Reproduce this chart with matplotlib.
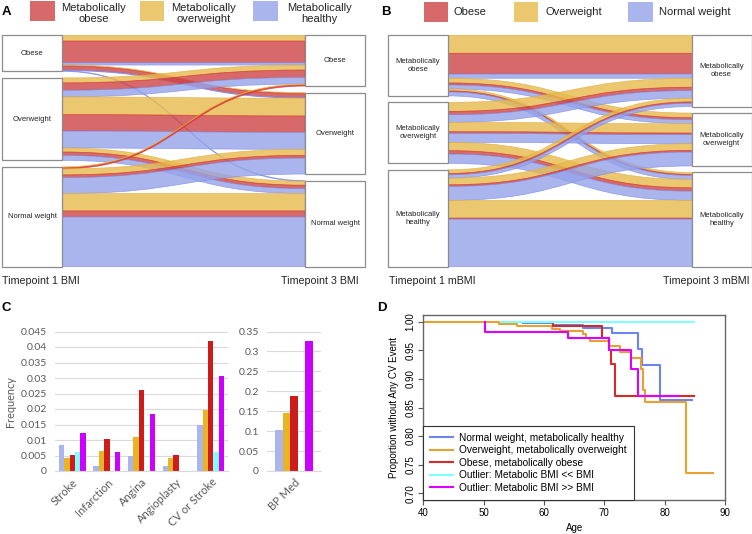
import numpy as np
import matplotlib.pyplot as plt
from matplotlib.path import Path
from matplotlib.patches import PathPatch, Rectangle

plt.rcParams['font.family'] = ['Liberation Sans', 'DejaVu Sans']

W, H = 752, 534

# panels A/B: flow sizes per (timepoint 1 node, timepoint 3 node) as [obese, overweight, healthy/normal]
bmi_nodes = ['Obese', 'Overweight', 'Normal weight']
mbmi_nodes = ['Metabolically\nobese', 'Metabolically\noverweight', 'Metabolically\nhealthy']
metab_legend = ['Metabolically\nobese', 'Metabolically\noverweight', 'Metabolically\nhealthy']
bmi_legend = ['Obese', 'Overweight', 'Normal weight']

flows_a = [
    [[65, 18, 7], [12, 3, 2], [0, 0, 2]],
    [[22, 15, 20], [49, 53, 51], [10, 12, 15]],
    [[3, 3, 0], [8, 18, 48], [18, 52, 150]],
]
flows_b = [
    [[62, 55, 13], [6, 14, 12], [3, 6, 12]],
    [[10, 27, 23], [5, 28, 27], [10, 25, 28]],
    [[4, 11, 10], [5, 20, 42], [3, 53, 144]],
]

# panel C
events = ['Stroke', 'Infarction', 'Angina', 'Angioplasty', 'CV or Stroke']
freq_healthy = [0.0084, 0.0016, 0.0050, 0.0016, 0.0150]
freq_overweight = [0.0043, 0.0065, 0.0109, 0.0043, 0.0196]
freq_obese = [0.0051, 0.0103, 0.0262, 0.0051, 0.0418]
freq_low_outlier = [0.0062, 0, 0, 0, 0.0062]
freq_high_outlier = [0.0122, 0.0060, 0.0184, 0, 0.0305]
bp_med = [0.103, 0.1465, 0.188, 0.0, 0.327]

# panel D: Kaplan-Meier steps
km_labels = ['Normal weight, metabolically healthy', 'Overweight, metabolically overweight',
             'Obese, metabolically obese', 'Outlier: Metabolic BMI << BMI', 'Outlier: Metabolic BMI >> BMI']
age_healthy = [56.6, 61.5, 66.5, 71.2, 75.6, 76.2, 79.3, 84.5]
surv_healthy = [0.998, 0.995, 0.989, 0.980, 0.952, 0.924, 0.863, 0.863]
age_overweight = [40, 52.6, 55.6, 61.4, 62.7, 66.5, 66.9, 67.7, 70.7, 72.6, 74.5, 76.0, 76.4, 76.8, 83.6, 88.0]
surv_overweight = [1.0, 0.996, 0.992, 0.988, 0.984, 0.979, 0.972, 0.966, 0.958, 0.948, 0.936, 0.918, 0.880,
                   0.859, 0.736, 0.736]
age_obese = [57.0, 61.5, 69.6, 70.8, 71.1, 71.8, 84.8]
surv_obese = [1.0, 0.992, 0.971, 0.951, 0.926, 0.871, 0.871]
age_low = [52.8, 84.8]
surv_low = [1.0, 1.0]
age_high = [50.3, 50.3, 64.0, 70.7, 74.4, 75.5, 82.4]
surv_high = [1.0, 0.982, 0.971, 0.951, 0.917, 0.871, 0.871]

flow_colors = ['#cd4346', '#e6ba4c', '#95a3ea']
flow_edges = ['#d93434', '#e6ad3a', '#7f8de6']
flow_alpha = 0.8
bar_colors = ['#aab4ee', '#e8b426', '#cc1c1c', '#80ffff', '#cc00ff']
km_colors = ['#6b84ee', '#e8a030', '#d42a2a', '#80ffff', '#dd00ff']

fig = plt.figure(figsize=(W / 100, H / 100), dpi=100)


def add_ax(x0, y0, x1, y1):
    return fig.add_axes([x0 / W, 1 - y1 / H, (x1 - x0) / W, (y1 - y0) / H])


def ftext(x, y, s, **kw):
    fig.text(x / W, 1 - y / H, s, **kw)


def fpatch(x0, y0, x1, y1, color):
    fig.add_artist(Rectangle((x0 / W, 1 - y1 / H), (x1 - x0) / W, (y1 - y0) / H,
                             transform=fig.transFigure, facecolor=color, alpha=flow_alpha, lw=0))


def sankey(ax, flows, left_names, right_names, nw, gap=19.5):
    f = np.asarray(flows, dtype=float)
    n = f.shape[0]
    lsum = f.sum(axis=(1, 2))
    rsum = f.sum(axis=(0, 2))
    ltop = np.concatenate([[0], np.cumsum(lsum + gap)[:-1]])
    rtop = np.concatenate([[0], np.cumsum(rsum + gap)[:-1]])
    lcur, rcur = ltop.copy(), rtop.copy()
    x0, x1, xm = nw, 1 - nw, 0.5
    codes = [Path.MOVETO, Path.CURVE4, Path.CURVE4, Path.CURVE4, Path.LINETO,
             Path.CURVE4, Path.CURVE4, Path.CURVE4, Path.CLOSEPOLY]
    for s in range(n):
        for t in range(n):
            for c in (1, 0, 2):
                v = f[s, t, c]
                if v <= 0:
                    continue
                a0, a1 = lcur[s], lcur[s] + v
                b0, b1 = rcur[t], rcur[t] + v
                lcur[s], rcur[t] = a1, b1
                verts = [(x0, a0), (xm, a0), (xm, b0), (x1, b0), (x1, b1),
                         (xm, b1), (xm, a1), (x0, a1), (x0, a0)]
                ax.add_patch(PathPatch(Path(verts, codes), facecolor=flow_colors[c], alpha=flow_alpha,
                                       edgecolor=flow_edges[c], lw=0.5))
    for tops, sums, x, names in ((ltop, lsum, 0, left_names), (rtop, rsum, 1 - nw, right_names)):
        for top, h, name in zip(tops, sums, names):
            ax.add_patch(Rectangle((x, top), nw, h, facecolor='white', edgecolor='#8c8c8c',
                                   lw=0.9, zorder=3, clip_on=False))
            ax.text(x + nw / 2, top + h / 2, name, ha='center', va='center', fontsize=5.5,
                    color='#222222', zorder=4, linespacing=1.25)
    ax.set_xlim(0, 1)
    ax.set_ylim(max(ltop[-1] + lsum[-1], rtop[-1] + rsum[-1]), 0)
    ax.axis('off')


# ---------- A
axa = add_ax(2, 35, 365, 267)
sankey(axa, flows_a, bmi_nodes, bmi_nodes, 60 / 363)
ftext(2, 12, 'A', fontsize=9.5, fontweight='bold', va='center')
for (px0, px1, tx), lab, col in zip([(30, 55, 94), (140, 164, 204), (253, 278, 319)], metab_legend, flow_colors):
    fpatch(px0, 1, px1, 21, col)
    ftext(tx, 13.5, lab, fontsize=8, ha='center', va='center', linespacing=1.22, color='#222222')
ftext(2, 281, 'Timepoint 1 BMI', fontsize=7.7, va='center', color='#222222')
ftext(359, 281, 'Timepoint 3 BMI', fontsize=7.7, va='center', ha='right', color='#222222')

# ---------- B
axb = add_ax(388, 35, 751.5, 267)
sankey(axb, flows_b, mbmi_nodes, mbmi_nodes, 60 / 363.5)
ftext(381, 12, 'B', fontsize=9.5, fontweight='bold', va='center')
for (px0, px1, tx), lab, col in zip([(424, 448, 454), (514, 538, 545), (628, 653, 659)], bmi_legend, flow_colors):
    fpatch(px0, 2, px1, 22, col)
    ftext(tx, 12, lab, fontsize=8, va='center', color='#222222')
ftext(389, 281, 'Timepoint 1 mBMI', fontsize=7.7, va='center', color='#222222')
ftext(750, 281, 'Timepoint 3 mBMI', fontsize=7.7, va='center', ha='right', color='#222222')

# ---------- C
ftext(2, 308, 'C', fontsize=9.5, fontweight='bold', va='center')
series = [freq_healthy, freq_overweight, freq_obese, freq_low_outlier, freq_high_outlier]
axc = add_ax(55, 331.5, 228, 471)
x = np.arange(len(events))
bw = 0.157
for i, (vals, col) in enumerate(zip(series, bar_colors)):
    axc.bar(x + (i - 2) * bw, vals, bw, color=col, zorder=2)
axc.set_xlim(-0.5, len(events) - 0.5)
axc.set_ylim(0, 0.045)
yt = np.arange(0, 0.0451, 0.005)
axc.set_yticks(yt, [f'{round(v, 3):g}' for v in yt])
axc.set_xticks(x, events)
axc.set_ylabel('Frequency', fontsize=7.8, color='#595959', family='Lato', labelpad=3)

axc2 = add_ax(267, 331.5, 321, 471)
bw2 = 0.14
axc2.bar((np.arange(len(bp_med)) - 2) * bw2, bp_med, bw2, color=bar_colors, zorder=2)
axc2.set_xlim(-0.5, 0.5)
axc2.set_ylim(0, 0.35)
yt2 = np.arange(0, 0.351, 0.05)
axc2.set_yticks(yt2, [f'{round(v, 2):g}' for v in yt2])
axc2.set_xticks([0], ['BP Med'])

for ax in (axc, axc2):
    for side in ('top', 'right', 'left'):
        ax.spines[side].set_visible(False)
    ax.spines['bottom'].set_color('#d9d9d9')
    ax.grid(axis='y', color='#d9d9d9', lw=0.8, zorder=0)
    ax.tick_params(axis='y', length=0, labelsize=7.5, labelcolor='#595959', pad=6)
    ax.tick_params(axis='x', length=0, labelsize=8, labelcolor='#595959', pad=4)
    for lab in ax.get_xticklabels() + ax.get_yticklabels():
        lab.set_family('Lato')
    for lab in ax.get_xticklabels():
        lab.set_rotation(45)
        lab.set_ha('right')
        lab.set_va('top')
        lab.set_rotation_mode('anchor')

# ---------- D
ftext(377, 308, 'D', fontsize=9.5, fontweight='bold', va='center')
axd = add_ax(423.3, 315, 725, 500)
km = [(age_healthy, surv_healthy), (age_overweight, surv_overweight), (age_obese, surv_obese),
      (age_low, surv_low), (age_high, surv_high)]
for (ages, surv), col, lab in zip(km, km_colors, km_labels):
    axd.step(ages, surv, where='post', color=col, lw=1.5, label=lab)
axd.set_xlim(40, 90)
axd.set_ylim(0.688, 1.012)
axd.set_xticks(range(40, 91, 10))
ytd = np.arange(0.70, 1.001, 0.05)
axd.set_yticks(ytd, [f'{v:.2f}' for v in ytd])
axd.tick_params(labelsize=7, length=3.5, pad=2.0, color='#555555')
for lab in axd.get_yticklabels():
    lab.set_rotation(90)
    lab.set_va('center')
for sp in axd.spines.values():
    sp.set_color('#666666')
    sp.set_linewidth(1.0)
axd.set_xlabel('Age', fontsize=7, labelpad=4)
axd.set_ylabel('Proportion without Any CV Event', fontsize=7, labelpad=5)
leg = axd.legend(loc='lower left', bbox_to_anchor=(0, 0), borderaxespad=0, fontsize=7.3,
                 frameon=True, fancybox=False, edgecolor='#333333', framealpha=1,
                 handlelength=2.2, handletextpad=0.6, labelspacing=0.25, borderpad=0.7)
leg.get_frame().set_linewidth(0.8)

fig.savefig('out.png', dpi=100)
